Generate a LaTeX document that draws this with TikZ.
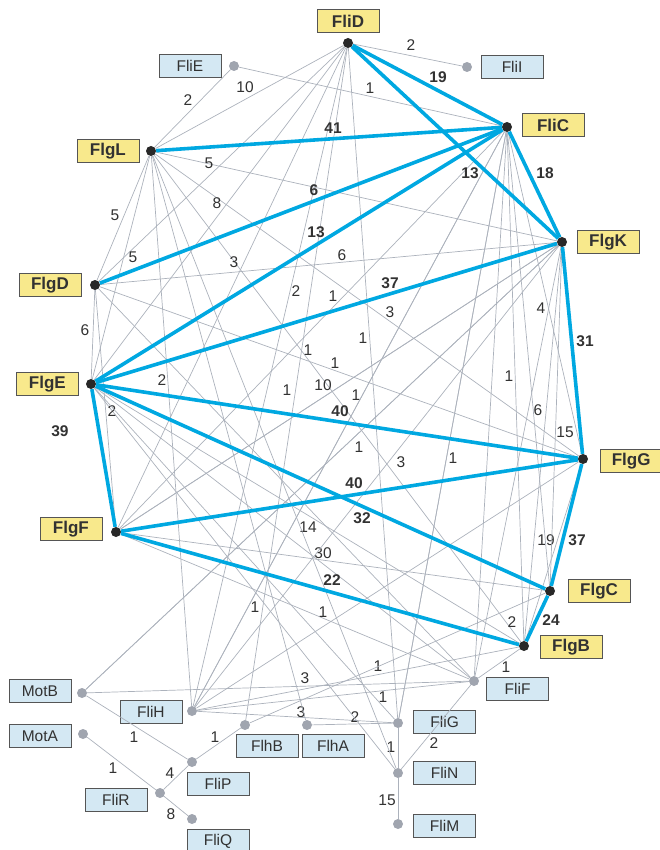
\documentclass[tikz,border=0pt]{standalone}
\usepackage{fontspec}
\setmainfont{Liberation Sans}
\usetikzlibrary{positioning}

\definecolor{tagyellow}{RGB}{248,233,140}
\definecolor{tagblue}{RGB}{212,232,243}
\definecolor{tagline}{RGB}{85,85,85}
\definecolor{hubdot}{RGB}{40,40,40}
\definecolor{sidedot}{RGB}{160,165,175}
\definecolor{linkgray}{RGB}{172,178,188}
\definecolor{linkblue}{RGB}{0,168,225}
\definecolor{numtext}{RGB}{50,50,50}

\tikzset{
    hub/.style={circle, fill=hubdot, inner sep=0pt, minimum size=10pt},
    side/.style={circle, fill=sidedot, inner sep=0pt, minimum size=10pt},
    hubtag/.style={draw=tagline, fill=tagyellow, line width=0.8pt, font=\fontsize{17}{17}\selectfont\bfseries,
        text=numtext, minimum width=62pt, minimum height=23pt, inner sep=0pt},
    sidetag/.style={hubtag, fill=tagblue, font=\fontsize{15.5}{16}\selectfont},
    link/.style={draw=linkgray, line width=0.7pt},
    strong/.style={draw=linkblue, line width=3.6pt},
    wt/.style={font=\fontsize{15.5}{16}\selectfont, text=numtext, inner sep=0pt},
    swt/.style={wt, font=\fontsize{15.5}{16}\selectfont\bfseries}
}

\begin{document}
\begin{tikzpicture}[x=1pt, y=-1pt]
    \useasboundingbox (0,0) rectangle (660,850);

    % rod, hook and filament proteins
    \node[hub] (FliD) at (348,43) {};
    \node[hub] (FliC) at (507,127) {};
    \node[hub] (FlgL) at (151,151) {};
    \node[hub] (FlgK) at (562,242) {};
    \node[hub] (FlgD) at (95,285) {};
    \node[hub] (FlgE) at (91,384) {};
    \node[hub] (FlgG) at (583,459) {};
    \node[hub] (FlgF) at (116,532) {};
    \node[hub] (FlgC) at (550,591) {};
    \node[hub] (FlgB) at (524,646) {};

    % the other proteins
    \node[side] (FliE) at (234,66) {};
    \node[side] (FliI) at (467,67) {};
    \node[side] (MotB) at (82,693) {};
    \node[side] (FliH) at (192,711) {};
    \node[side] (MotA) at (83,734) {};
    \node[side] (FlhB) at (245,725) {};
    \node[side] (FlhA) at (307,725) {};
    \node[side] (FliP) at (192,762) {};
    \node[side] (FliR) at (160,793) {};
    \node[side] (FliQ) at (192,819) {};
    \node[side] (FliF) at (474,681) {};
    \node[side] (FliG) at (398,723) {};
    \node[side] (FliN) at (398,773) {};
    \node[side] (FliM) at (398,824) {};

    % name tags
    \node[hubtag, above=4.5pt of FliD] (FliD-tag) {FliD};
    \node[hubtag, right=9.5pt of FliC, yshift=2pt] (FliC-tag) {FliC};
    \node[hubtag, left=6.5pt of FlgL] (FlgL-tag) {FlgL};
    \node[hubtag, right=9.5pt of FlgK] (FlgK-tag) {FlgK};
    \node[hubtag, left=8.5pt of FlgD] (FlgD-tag) {FlgD};
    \node[hubtag, left=7pt of FlgE] (FlgE-tag) {FlgE};
    \node[hubtag, right=11.5pt of FlgG, yshift=-2pt] (FlgG-tag) {FlgG};
    \node[hubtag, left=8.5pt of FlgF, yshift=3pt] (FlgF-tag) {FlgF};
    \node[hubtag, right=12.5pt of FlgC] (FlgC-tag) {FlgC};
    \node[hubtag, right=10.5pt of FlgB, yshift=-1pt] (FlgB-tag) {FlgB};

    \node[sidetag, left=7.5pt of FliE] (FliE-tag) {FliE};
    \node[sidetag, right=8.5pt of FliI] (FliI-tag) {FliI};
    \node[sidetag, left=5.5pt of MotB, yshift=2pt] (MotB-tag) {MotB};
    \node[sidetag, left=4.5pt of FliH, yshift=-1pt] (FliH-tag) {FliH};
    \node[sidetag, left=6.5pt of MotA, yshift=-2pt] (MotA-tag) {MotA};
    \node[sidetag, below=4pt of FlhB, xshift=22pt] (FlhB-tag) {FlhB};
    \node[sidetag, below=4pt of FlhA, xshift=26pt] (FlhA-tag) {FlhA};
    \node[sidetag, below=5pt of FliP, xshift=26pt] (FliP-tag) {FliP};
    \node[sidetag, below=5pt of FliQ, xshift=26pt] (FliQ-tag) {FliQ};
    \node[sidetag, left=7.5pt of FliR, yshift=-7pt] (FliR-tag) {FliR};
    \node[sidetag, right=7pt of FliF, yshift=-8pt] (FliF-tag) {FliF};
    \node[sidetag, right=10pt of FliG, yshift=1pt] (FliG-tag) {FliG};
    \node[sidetag, right=10pt of FliN] (FliN-tag) {FliN};
    \node[sidetag, right=10pt of FliM, yshift=-2pt] (FliM-tag) {FliM};

    % weak links
    \draw[link] (FliD) -- (FliI) node[wt] at (411,45) {2};
    \draw[link] (FliD) -- (FlgL) node[wt] at (245,87) {10};
    \draw[link] (FliE) -- (FliC) node[wt] at (370,88) {1};
    \draw[link] (FliE) -- (FlgL) node[wt] at (188,100) {2};
    \draw[link] (FlgL) -- (FlgK) node[wt] at (209,163) {5};
    \draw[link] (FlgL) -- (FlgG) node[wt] at (217,203) {8};
    \draw[link] (FlgL) -- (FlgD) node[wt] at (115,215) {5};
    \draw[link] (FliD) -- (FlgD) node[wt] at (133,257) {5};
    \draw[link] (FlgL) -- (FlgB) node[wt] at (234,262) {3};
    \draw[link] (FliD) -- (FliH) node[wt] at (296,291) {2};
    \draw[link] (FlgD) -- (FlgK) node[wt] at (342,255) {6};
    \draw[link] (FlgD) -- (FlgE) node[wt] at (85,330) {6};
    \draw[link] (FlgL) -- (FliH) node[wt] at (162,380) {2};
    \draw[link] (FlgG) -- (FlgB) node[wt] at (546,540) {19};
    \draw[link] (FlgB) -- (FliF) node[wt] at (506,667) {1};
    \draw[link] (FliG) -- (FliN) node[wt] at (391,747) {1};
    \draw[link] (FliN) -- (FliF) node[wt] at (434,743) {2};
    \draw[link] (FliN) -- (FliM) node[wt] at (387,800) {15};
    \draw[link] (MotB) -- (FliP) node[wt] at (134,737) {1};
    \draw[link] (FliP) -- (FlhB) node[wt] at (215,737) {1};
    \draw[link] (FliR) -- (FliP) node[wt] at (170,773) {4};
    \draw[link] (MotA) -- (FliR) node[wt] at (113,768) {1};
    \draw[link] (FliR) -- (FliQ) node[wt] at (171,814) {8};
    \draw[link] (FlgF) -- (FlgC) node[wt] at (323,553) {30};
    \draw[link] (FlgF) -- (FliF) node[wt] at (323,612) {1};
    \draw[link] (FlgE) -- (FlgB) node[wt] at (308,527) {14};
    \draw[link] (FliD) -- (FlhB) node[wt] at (255,607) {1};
    \draw[link] (MotB) -- (FliF) node[wt] at (305,678) {3};
    \draw[link] (FliH) -- (FliG) node[wt] at (301,712) {3};
    \draw[link] (FlhA) -- (FliG) node[wt] at (355,717) {2};
    \draw[link] (FliD) -- (FlgE);
    \draw[link] (FliD) -- (FlgF);
    \draw[link] (FliD) -- (FliG);
    \draw[link] (FlgL) -- (FlgE);
    \draw[link] (FlgD) -- (FlgF);
    \draw[link] (FliC) -- (FliH);
    \draw[link] (FliC) -- (FliG);
    \draw[link] (FliC) -- (FliF);
    \draw[link] (FliC) -- (FlgB);
    \draw[link] (FliC) -- (FlgG) node[wt] at (541,308) {4};
    \draw[link] (FliC) -- (FlgC) node[wt] at (538,410) {6};
    \draw[link] (FlgK) -- (FlgF);
    \draw[link] (FlgK) -- (MotB);
    \draw[link] (FlgK) -- (FliH);
    \draw[link] (FlgK) -- (FlgC) node[wt] at (565,432) {15};
    \draw[link] (FlgK) -- (FlgB);
    \draw[link] (FlgK) -- (FliF) node[wt] at (509,376) {1};
    \draw[link] (FlgD) -- (FlgG) node[wt] at (390,312) {3};
    \draw[link] (FlgE) -- (FliF);
    \draw[link] (FlgE) -- (FliN) node[wt] at (112,411) {2};
    \draw[link] (FlgF) -- (FliC) node[wt] at (287,390) {1};
    \draw[link] (FliH) -- (FlgB) node[wt] at (378,666) {1};
    \draw[link] (FliH) -- (FliF) node[wt] at (383,697) {1};
    \draw[link] (FlhB) -- (FlgC) node[wt] at (512,622) {2};
    \draw[link] (FlgL) -- (FliN) node[wt] at (333,296) {1};
    \draw[link] (FlgD) -- (FliF) node[wt] at (323,385) {10};
    \draw[link] (FlgL) -- (FlhA) node[wt] at (308,350) {1};
    \draw[link] (FlgF) -- (FlgK) node[wt] at (356,395) {1};
    \draw[link] (FliH) -- (FlgG) node[wt] at (401,462) {3};
    \draw[link] (FliH) -- (FliC) node[wt] at (359,447) {1};
    \draw[link] (FliG) -- (FliC) node[wt] at (453,458) {1};
    \draw[link] (MotB) -- (FlgK) node[wt] at (363,338) {1};
    \draw[link] (FlgE) -- (FliG) node[wt] at (335,363) {1};

    % strong links
    \draw[strong] (FliD) -- (FliC) node[swt] at (438,77) {19};
    \draw[strong] (FliD) -- (FlgK) node[swt] at (470,173) {13};
    \draw[strong] (FliC) -- (FlgK) node[swt] at (545,173) {18};
    \draw[strong] (FlgL) -- (FliC) node[swt] at (333,128) {41};
    \draw[strong] (FlgD) -- (FliC) node[swt] at (314,190) {6};
    \draw[strong] (FlgE) -- (FliC) node[swt] at (316,232) {13};
    \draw[strong] (FlgE) -- (FlgK) node[swt] at (390,283) {37};
    \draw[strong] (FlgK) -- (FlgG) node[swt] at (585,341) {31};
    \draw[strong] (FlgE) -- (FlgG) node[swt] at (340,411) {40};
    \draw[strong] (FlgF) -- (FlgG) node[swt] at (354,483) {40};
    \draw[strong] (FlgE) -- (FlgC) node[swt] at (362,518) {32};
    \draw[strong] (FlgE) -- (FlgF) node[swt] at (60,431) {39};
    \draw[strong] (FlgF) -- (FlgB) node[swt] at (332,580) {22};
    \draw[strong] (FlgG) -- (FlgC) node[swt] at (577,540) {37};
    \draw[strong] (FlgC) -- (FlgB) node[swt] at (551,620) {24};
\end{tikzpicture}
\end{document}
